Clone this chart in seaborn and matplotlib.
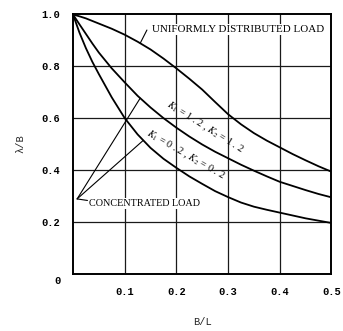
import numpy as np
import pandas as pd
import matplotlib
matplotlib.use("Agg")
import matplotlib.pyplot as plt
import matplotlib.transforms as mtransforms
import seaborn as sns

# B/L ratio and the effective-width curves (lambda/B)
b_over_l = [0.0, 0.0125, 0.025, 0.0375, 0.05, 0.075, 0.1, 0.125, 0.15,
            0.175, 0.2, 0.225, 0.25, 0.275, 0.3, 0.325, 0.35, 0.375, 0.4,
            0.425, 0.45, 0.475, 0.5]
uniform_load = [1.0, 0.993, 0.985, 0.975, 0.965, 0.945, 0.922, 0.895, 0.865,
                0.83, 0.792, 0.752, 0.71, 0.662, 0.615, 0.576, 0.542, 0.513,
                0.487, 0.461, 0.437, 0.414, 0.393]
conc_k12 = [1.0, 0.962, 0.925, 0.888, 0.853, 0.792, 0.738, 0.686, 0.641,
            0.60, 0.563, 0.529, 0.498, 0.47, 0.445, 0.42, 0.397, 0.375,
            0.354, 0.338, 0.322, 0.307, 0.294]
conc_k02 = [1.0, 0.93, 0.87, 0.817, 0.77, 0.68, 0.60, 0.537, 0.485,
            0.443, 0.408, 0.375, 0.346, 0.318, 0.295, 0.274, 0.258, 0.246,
            0.235, 0.224, 0.213, 0.204, 0.195]

x_ticks = [0.1, 0.2, 0.3, 0.4, 0.5]
x_tick_labels = ["0.1", "0.2", "0.3", "0.4", "0.5"]
y_ticks = [0.0, 0.2, 0.4, 0.6, 0.8, 1.0]
y_tick_labels = ["0", "0.2", "0.4", "0.6", "0.8", "1.0"]

df = pd.DataFrame({
    "B/L": b_over_l * 3,
    "lambda/B": uniform_load + conc_k12 + conc_k02,
    "case": (["uniform"] * len(b_over_l) + ["k12"] * len(b_over_l)
             + ["k02"] * len(b_over_l)),
})

sns.set_theme(style="white")
plt.rcParams["mathtext.fontset"] = "stix"
mono = ["Liberation Mono", "DejaVu Sans Mono"]
serif = ["Liberation Serif", "DejaVu Serif"]

fig = plt.figure(figsize=(3.43, 3.31), dpi=100)
ax = fig.add_axes([0.2128, 0.1737, 0.7536, 0.7825])

sns.lineplot(data=df, x="B/L", y="lambda/B", hue="case",
             palette=["black", "black", "black"], linewidth=1.3,
             legend=False, ax=ax, sort=True)

ax.set_xlim(0, 0.5)
ax.set_ylim(0, 1.0)
ax.set_xticks(x_ticks)
ax.set_xticklabels(x_tick_labels, fontfamily=mono, fontsize=7.5,
                   fontweight="bold")
ax.set_yticks(y_ticks)
ax.set_yticklabels(y_tick_labels, fontfamily=mono, fontsize=7.5,
                   fontweight="bold")
ax.tick_params(axis="both", length=0, colors="black")
ax.tick_params(axis="x", pad=10)
ax.tick_params(axis="y", pad=9)

# drop the origin label slightly below the axis line
zero_lbl = ax.get_yticklabels()[0]
zero_lbl.set_transform(zero_lbl.get_transform()
                       + mtransforms.ScaledTranslation(0, -5 / 72,
                                                        fig.dpi_scale_trans))

for g in [0.1, 0.2, 0.3, 0.4]:
    ax.axvline(g, color="#1a1a1a", linewidth=0.9, zorder=0)
for g in [0.2, 0.4, 0.6, 0.8]:
    ax.axhline(g, color="#1a1a1a", linewidth=0.9, zorder=0)

for sp in ax.spines.values():
    sp.set_color("black")
    sp.set_linewidth(1.4)

ax.set_xlabel("B/L", fontfamily=mono, fontsize=7.5, labelpad=14)
ax.set_ylabel("λ/B", fontfamily=mono, fontsize=7.5, labelpad=12)

label_box = dict(boxstyle="square,pad=0.1", facecolor="white",
                 edgecolor="none")

# uniformly distributed load label and leader
ax.text(0.153, 0.943, "UNIFORMLY DISTRIBUTED LOAD", fontfamily=serif,
        fontsize=7.9, ha="left", va="center", color="black",
        bbox=label_box, zorder=1)
x_u = 0.130
ax.plot([0.143, x_u], [0.94, np.interp(x_u, b_over_l, uniform_load)],
        color="black", linewidth=0.8)

# concentrated load label with two leaders
vx, vy = 0.008, 0.288
ax.text(0.031, 0.271, "CONCENTRATED LOAD", fontfamily=serif,
        fontsize=7.3, ha="left", va="center", color="black",
        bbox=label_box, zorder=1)
ax.plot([vx, 0.028], [vy, 0.282], color="black", linewidth=0.8)
x_a = 0.130
ax.plot([vx, x_a], [vy, np.interp(x_a, b_over_l, conc_k12)],
        color="black", linewidth=0.8)
x_b = 0.136
ax.plot([vx, x_b], [vy, np.interp(x_b, b_over_l, conc_k02)],
        color="black", linewidth=0.8)

# parameter labels along the concentrated-load curves
ax.text(0.256, 0.566, r"$K_1$ = 1 . 2 , $K_2$ = 1 . 2", fontfamily=serif,
        fontsize=7.4, rotation=-32, rotation_mode="anchor",
        ha="center", va="center", color="black")
ax.text(0.217, 0.458, r"$K_1$ = 0 . 2 , $K_2$ = 0 . 2", fontfamily=serif,
        fontsize=7.4, rotation=-30, rotation_mode="anchor",
        ha="center", va="center", color="black")

fig.savefig("out.png", dpi=100, facecolor="white")
